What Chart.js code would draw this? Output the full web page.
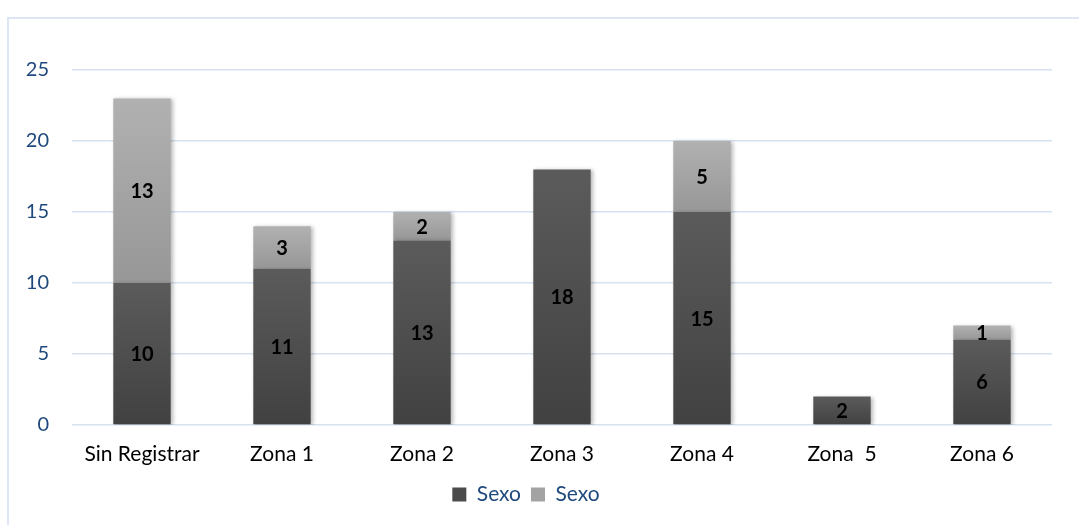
<!DOCTYPE html>
<html>
<head>
<meta charset="utf-8">
<title>Sexo por zona</title>
<script src="https://cdn.jsdelivr.net/npm/chart.js@4.4.1/dist/chart.umd.min.js"></script>
<style>
  html, body { margin: 0; padding: 0; background: #fff; overflow: hidden; }
  #frame {
    position: absolute; left: 7px; top: 17px; width: 1200px; height: 600px;
    border-left: 2px solid #dce6f4; border-top: 2px solid #dce6f4;
  }
  #wrap { position: absolute; left: 0; top: 0; width: 1079px; height: 525px; }
</style>
</head>
<body>
<div id="frame"></div>
<div id="wrap"><canvas id="chart"></canvas></div>
<script>
// ===================== DATA =====================
const zonas = ["Sin Registrar", "Zona 1", "Zona 2", "Zona 3", "Zona 4", "Zona  5", "Zona 6"];
const sexoA = [10, 11, 13, 18, 15, 2, 6];
const sexoB = [13, 3, 2, null, 5, null, 1];
const yTicks = [0, 5, 10, 15, 20, 25];

const FONT = "Lato, 'Open Sans', sans-serif";

// ===================== GRADIENTS =====================
// each segment gets its own vertical gradient, lighter on top
function segGradient(ctx, top, bottom) {
  const chart = ctx.chart;
  const y = chart.scales.y;
  if (ctx.dataIndex === undefined || !y || !chart.chartArea) return top;
  const i = ctx.dataIndex;
  const base = ctx.datasetIndex === 0 ? 0 : (sexoA[i] || 0);
  const val = ctx.datasetIndex === 0 ? sexoA[i] : sexoB[i];
  if (val == null) return top;
  const y0 = y.getPixelForValue(base + val);
  const y1 = y.getPixelForValue(base);
  if (!isFinite(y0) || !isFinite(y1) || y0 === y1) return top;
  const g = chart.ctx.createLinearGradient(0, y0, 0, y1);
  g.addColorStop(0, top);
  g.addColorStop(1, bottom);
  return g;
}

// ===================== PLUGINS =====================
const barShadow = {
  id: "barShadow",
  beforeDatasetsDraw(chart) {
    const c = chart.ctx;
    c.save();
    c.shadowColor = "rgba(0,0,0,0.28)";
    c.shadowBlur = 4;
    c.shadowOffsetX = 2;
    c.shadowOffsetY = 1;
  },
  afterDatasetsDraw(chart) {
    chart.ctx.restore();
  }
};

const valueLabels = {
  id: "valueLabels",
  afterDatasetsDraw(chart) {
    const c = chart.ctx;
    c.save();
    c.font = "bold 20px " + FONT;
    c.fillStyle = "#000";
    c.textAlign = "center";
    c.textBaseline = "middle";
    chart.data.datasets.forEach((ds, di) => {
      const meta = chart.getDatasetMeta(di);
      meta.data.forEach((bar, i) => {
        const v = ds.data[i];
        if (v == null) return;
        c.fillText(String(v), bar.x, (bar.y + bar.base) / 2 + 1);
      });
    });
    c.restore();
  }
};

// ===================== CHART =====================
new Chart(document.getElementById("chart"), {
  type: "bar",
  data: {
    labels: zonas,
    datasets: [
      {
        label: "Sexo",
        data: sexoA,
        backgroundColor: ctx => segGradient(ctx, "#5b5b5b", "#414141"),
        categoryPercentage: 1,
        barPercentage: 0.41
      },
      {
        label: "Sexo",
        data: sexoB,
        backgroundColor: ctx => segGradient(ctx, "#b1b1b1", "#979797"),
        categoryPercentage: 1,
        barPercentage: 0.41
      }
    ]
  },
  options: {
    responsive: true,
    maintainAspectRatio: false,
    animation: false,
    layout: { padding: { top: 70, right: 27, left: 0, bottom: 10 } },
    plugins: {
      tooltip: { enabled: false },
      legend: {
        position: "bottom",
        labels: {
          boxWidth: 14,
          boxHeight: 14,
          padding: 10,
          color: "#1f497d",
          font: { family: FONT, size: 21 },
          generateLabels(chart) {
            const fills = ["#4b4b4b", "#a3a3a3"];
            return chart.data.datasets.map((ds, i) => ({
              text: ds.label,
              fillStyle: fills[i],
              strokeStyle: fills[i],
              lineWidth: 0,
              fontColor: "#1f497d",
              datasetIndex: i
            }));
          }
        }
      }
    },
    scales: {
      x: {
        stacked: true,
        grid: { display: false, drawTicks: false },
        border: { display: false },
        ticks: { color: "#000", padding: 17, font: { family: FONT, size: 21 } },
        afterFit(scale) { scale.height = 49; }
      },
      y: {
        stacked: true,
        min: 0,
        max: 25,
        afterBuildTicks(scale) { scale.ticks = yTicks.map(v => ({ value: v })); },
        grid: { color: "#d6e1f1", lineWidth: 1.5, drawTicks: false },
        border: { display: false },
        ticks: { color: "#1f497d", padding: 23, font: { family: FONT, size: 20 } },
        afterFit(scale) { scale.width = 72; }
      }
    }
  },
  plugins: [barShadow, valueLabels]
});
</script>
</body>
</html>
